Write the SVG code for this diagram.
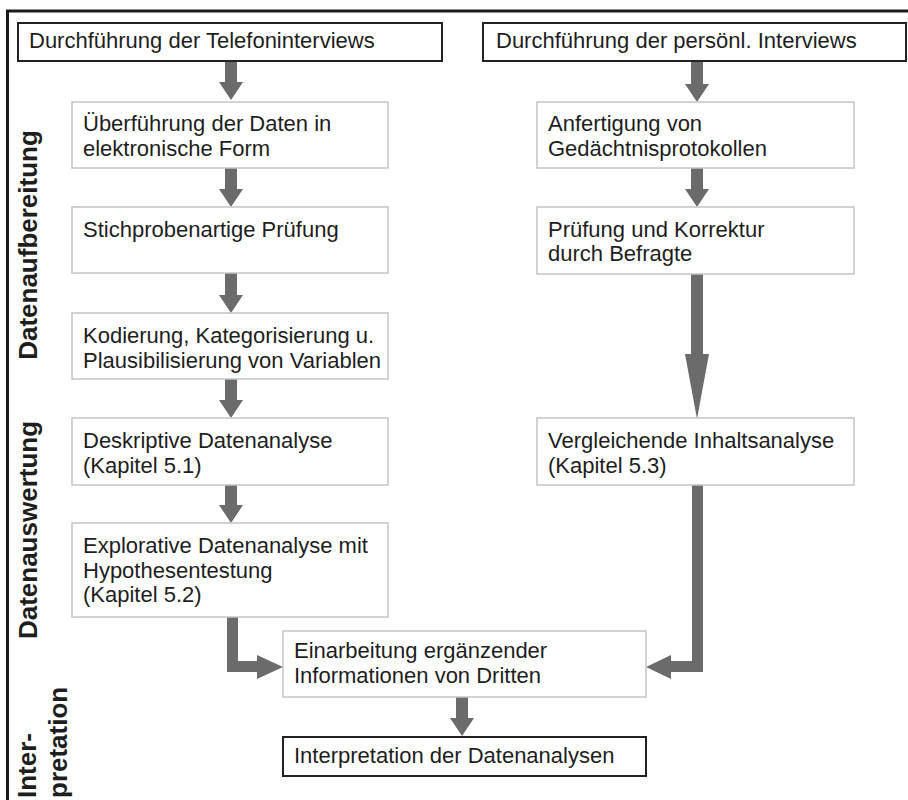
<svg xmlns="http://www.w3.org/2000/svg" width="908" height="800" viewBox="0 0 908 800">
<style>
  .t { font-family: "Liberation Sans", Arial, sans-serif; font-size: 22px; fill: #1e1e1e; }
  .lbl { font-family: "Liberation Sans", Arial, sans-serif; font-size: 26px; font-weight: bold; fill: #1e1e1e; }
  .gbox { fill: #ffffff; stroke: #c4c4c4; stroke-width: 1.5; }
  .kbox { fill: #ffffff; stroke: #222222; stroke-width: 2; }
  .arr { fill: #6b6b6b; stroke: none; }
  .frame { stroke: #1a1a1a; stroke-width: 3; fill: none; }
</style>
<rect width="908" height="800" fill="#ffffff"/>
<g id="frame">
  <line class="frame" x1="6" y1="11" x2="908" y2="11"/>
  <line class="frame" x1="7.5" y1="10" x2="7.5" y2="800"/>
</g>
<g id="labels">
  <text class="lbl" text-anchor="middle" transform="translate(37,245) rotate(-90)">Datenaufbereitung</text>
  <text class="lbl" text-anchor="middle" transform="translate(37,530) rotate(-90)">Datenauswertung</text>
  <text class="lbl" text-anchor="start" transform="translate(36,798) rotate(-90)">Inter-</text>
  <text class="lbl" text-anchor="start" transform="translate(67,798) rotate(-90)">pretation</text>
</g>
<g id="connectors">
  <polygon class="arr" points="225,61 237,61 237,82 243,82 231,100 219,82 225,82"/>
  <polygon class="arr" points="225,168 237,168 237,189 243,189 231,207 219,189 225,189"/>
  <polygon class="arr" points="225,273 237,273 237,295 243,295 231,313 219,295 225,295"/>
  <polygon class="arr" points="225,379 237,379 237,400 243,400 231,418 219,400 225,400"/>
  <polygon class="arr" points="225,485 237,485 237,505 243,505 231,523 219,505 225,505"/>
  <polygon class="arr" points="691,61 703,61 703,84 709,84 697,102 685,84 691,84"/>
  <polygon class="arr" points="691,168 703,168 703,189 709,189 697,207 685,189 691,189"/>
  <polygon class="arr" points="691,274 703,274 703,354 709,354 697,419 685,354 691,354"/>
  <polygon class="arr" points="227,617 238,617 238,661 257,661 257,655 283,667 257,679 257,672 227,672"/>
  <polygon class="arr" points="692,485 703,485 703,672 671,672 671,679 646,667 671,655 671,661 692,661"/>
  <polygon class="arr" points="456,697 468,697 468,718 474,718 462,736 450,718 456,718"/>
</g>
<g id="n_telefon">
  <rect class="kbox" x="18" y="23" width="424" height="38"/>
  <text class="t" x="29" y="48">Durchführung der Telefoninterviews</text>
</g>
<g id="n_persoenl">
  <rect class="kbox" x="483" y="23" width="423" height="38"/>
  <text class="t" x="496" y="48">Durchführung der persönl. Interviews</text>
</g>
<g id="n_ueberfuehrung">
  <rect class="gbox" x="72" y="102" width="316" height="66"/>
  <text class="t" x="83" y="131">Überführung der Daten in</text>
  <text class="t" x="83" y="155.5">elektronische Form</text>
</g>
<g id="n_stichprobe">
  <rect class="gbox" x="72" y="207" width="316" height="66"/>
  <text class="t" x="83" y="236.5">Stichprobenartige Prüfung</text>
</g>
<g id="n_kodierung">
  <rect class="gbox" x="72" y="313" width="316" height="66"/>
  <text class="t" x="83" y="343">Kodierung, Kategorisierung u.</text>
  <text class="t" x="83" y="368">Plausibilisierung von Variablen</text>
</g>
<g id="n_deskriptiv">
  <rect class="gbox" x="72" y="418" width="316" height="67"/>
  <text class="t" x="83" y="448">Deskriptive Datenanalyse</text>
  <text class="t" x="83" y="473">(Kapitel 5.1)</text>
</g>
<g id="n_explorativ">
  <rect class="gbox" x="72" y="523" width="316" height="94"/>
  <text class="t" x="83" y="553">Explorative Datenanalyse mit</text>
  <text class="t" x="83" y="577.5">Hypothesentestung</text>
  <text class="t" x="83" y="602">(Kapitel 5.2)</text>
</g>
<g id="n_anfertigung">
  <rect class="gbox" x="537" y="102" width="317" height="66"/>
  <text class="t" x="548" y="131">Anfertigung von</text>
  <text class="t" x="548" y="155.5">Gedächtnisprotokollen</text>
</g>
<g id="n_pruefung">
  <rect class="gbox" x="537" y="207" width="317" height="67"/>
  <text class="t" x="548" y="236.5">Prüfung und Korrektur</text>
  <text class="t" x="548" y="261">durch Befragte</text>
</g>
<g id="n_vergleichend">
  <rect class="gbox" x="537" y="418" width="317" height="67"/>
  <text class="t" x="548" y="448">Vergleichende Inhaltsanalyse</text>
  <text class="t" x="548" y="473">(Kapitel 5.3)</text>
</g>
<g id="n_einarbeitung">
  <rect class="gbox" x="283" y="631" width="363" height="66"/>
  <text class="t" x="294" y="658">Einarbeitung ergänzender</text>
  <text class="t" x="294" y="683">Informationen von Dritten</text>
</g>
<g id="n_interpretation">
  <rect class="kbox" x="283" y="737" width="363" height="39"/>
  <text class="t" x="294" y="763">Interpretation der Datenanalysen</text>
</g>
</svg>
